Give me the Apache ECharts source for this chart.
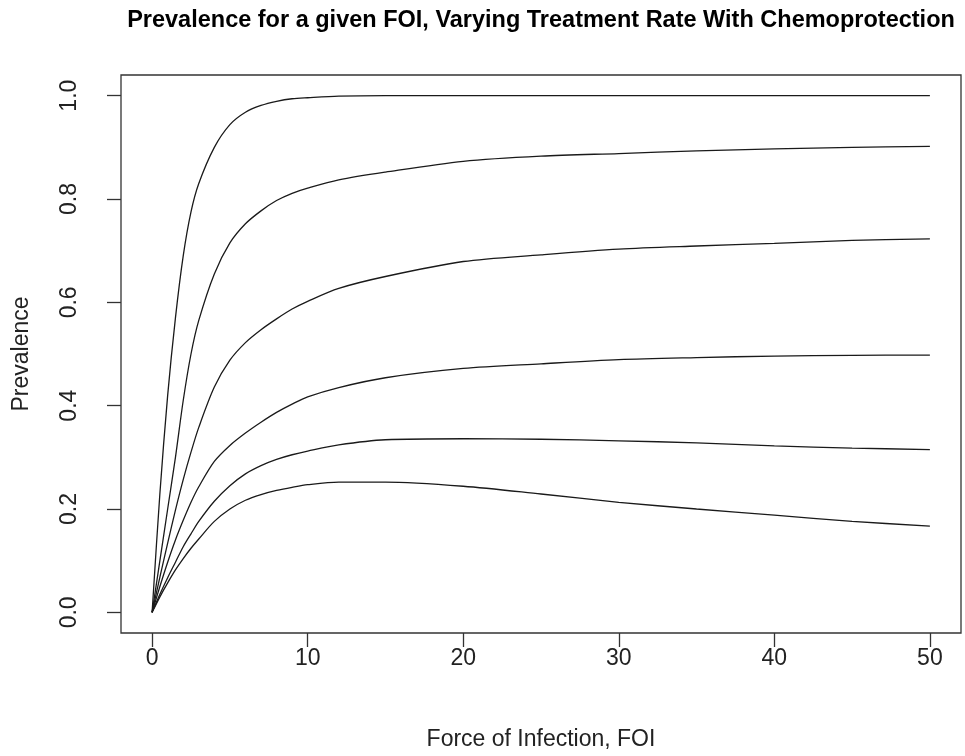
<!DOCTYPE html>
<html>
<head>
<meta charset="utf-8">
<script src="https://cdn.jsdelivr.net/npm/echarts@6/dist/echarts.min.js"></script>
<style>
html,body{margin:0;padding:0;background:#fff;}
#chart{width:965px;height:756px;}
</style>
</head>
<body>
<div id="chart"></div>
<script>
const titleText = 'Prevalence for a given FOI, Varying Treatment Rate With Chemoprotection';
const xTitle = 'Force of Infection, FOI';
const yTitle = 'Prevalence';
const xTicks = [0, 10, 20, 30, 40, 50];
const yTicks = [0, 0.2, 0.4, 0.6, 0.8, 1.0];
const foi = [0, 0.5, 1, 1.5, 2, 2.5, 3, 4, 5, 6, 7, 8, 9, 10, 12, 15, 20, 25, 30, 35, 40, 45, 50];
const curve1 = [0, 0.23, 0.42, 0.57, 0.69, 0.775, 0.83, 0.9, 0.944, 0.968, 0.981, 0.989, 0.994, 0.996, 0.999, 1.0, 1.0, 1.0, 1.0, 1.0, 1.0, 1.0, 1.0];
const curve2 = [0, 0.10, 0.20, 0.30, 0.41, 0.50, 0.565, 0.655, 0.715, 0.752, 0.777, 0.797, 0.811, 0.821, 0.837, 0.852, 0.873, 0.883, 0.888, 0.893, 0.897, 0.9, 0.902];
const curve3 = [0, 0.068, 0.134, 0.198, 0.257, 0.31, 0.358, 0.436, 0.488, 0.522, 0.547, 0.568, 0.587, 0.602, 0.627, 0.65, 0.679, 0.692, 0.703, 0.709, 0.714, 0.72, 0.723];
const curve4 = [0, 0.05, 0.097, 0.14, 0.178, 0.213, 0.243, 0.292, 0.323, 0.347, 0.368, 0.387, 0.403, 0.417, 0.435, 0.454, 0.472, 0.481, 0.489, 0.493, 0.496, 0.4975, 0.498];
const curve5 = [0, 0.035, 0.067, 0.097, 0.127, 0.152, 0.176, 0.215, 0.245, 0.268, 0.284, 0.296, 0.305, 0.312, 0.324, 0.334, 0.336, 0.335, 0.332, 0.328, 0.322, 0.318, 0.315];
const curve6 = [0, 0.03, 0.057, 0.082, 0.104, 0.124, 0.142, 0.176, 0.2, 0.217, 0.228, 0.236, 0.242, 0.247, 0.252, 0.252, 0.244, 0.229, 0.213, 0.2, 0.188, 0.176, 0.167];
const curves = [curve1, curve2, curve3, curve4, curve5, curve6];

const FONT = '"Liberation Sans", Arial, sans-serif';
const chart = echarts.init(document.getElementById('chart'));
chart.setOption({
  animation: false,
  backgroundColor: '#fff',
  title: {
    text: titleText,
    left: 536, top: 4, textAlign: 'center',
    textStyle: {fontFamily: FONT, fontSize: 23.5, fontWeight: 'bold', color: '#000'}
  },
  grid: {left: 121, top: 75, width: 840, height: 562, show: true, borderColor: '#333', borderWidth: 1.3, backgroundColor: 'transparent'},
  xAxis: {
    type: 'value', min: -2, max: 52,
    name: xTitle, nameLocation: 'middle', nameGap: 95,
    nameTextStyle: {fontFamily: FONT, fontSize: 23, color: '#222'},
    axisLine: {show: false, onZero: false},
    axisTick: {show: true, customValues: xTicks, length: 14, lineStyle: {color: '#333', width: 1.3}},
    axisLabel: {customValues: xTicks, margin: 14, fontFamily: FONT, fontSize: 23, color: '#222'},
    splitLine: {show: false}
  },
  yAxis: {
    type: 'value', min: -0.04, max: 1.04,
    name: yTitle, nameLocation: 'middle', nameGap: 88, nameRotate: 90,
    nameTextStyle: {fontFamily: FONT, fontSize: 23, color: '#222'},
    axisLine: {show: false, onZero: false},
    axisTick: {show: true, customValues: yTicks, length: 14, lineStyle: {color: '#333', width: 1.3}},
    axisLabel: {customValues: yTicks, rotate: 90, margin: 40, fontFamily: FONT, fontSize: 23, color: '#222',
      formatter: v => v.toFixed(1)},
    splitLine: {show: false}
  },
  series: curves.map(c => ({
    type: 'line',
    data: foi.map((x, i) => [x, c[i]]),
    showSymbol: false,
    smooth: 0.3,
    lineStyle: {color: '#1a1a1a', width: 1.3},
    silent: true
  }))
});
</script>
</body>
</html>
